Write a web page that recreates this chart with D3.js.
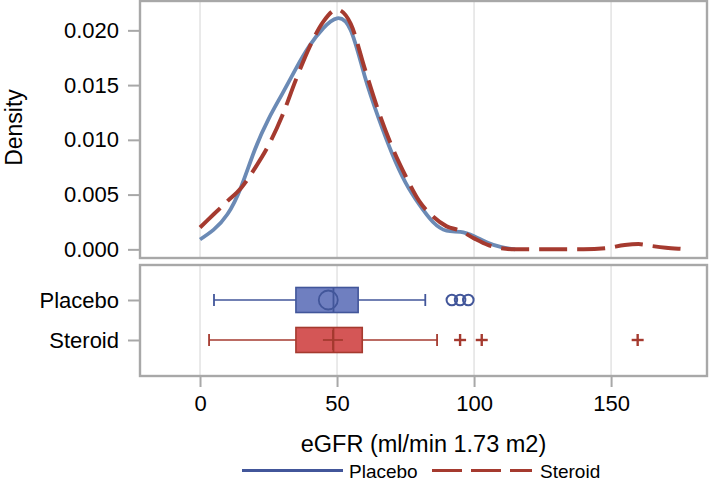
<!DOCTYPE html>
<html>
<head>
<meta charset="utf-8">
<script src="https://cdn.jsdelivr.net/npm/d3@7"></script>
<style>
html,body{margin:0;padding:0;background:#fff;}
svg{display:block;font-family:"Liberation Sans",Arial,sans-serif;}
</style>
</head>
<body>
<svg id="chart" width="709" height="480"></svg>
<script>
// ---------- data ----------
const densityX = [0,5,10,15,20,25,30,35,40,45,50,55,60,65,70,75,80,85,90,95,100,105,110,115];
const placeboDensity = [0.0009,0.0018,0.0032,0.0057,0.0091,0.0119,0.0142,0.0165,0.0186,0.0202,0.0211,0.0200,0.0159,0.0121,0.0088,0.0061,0.0041,0.0025,0.0017,0.0016,0.0012,0.0006,0.0002,0.0000];
const steroidX = [0,5,10,15,20,25,30,35,40,45,50,55,60,65,70,75,80,85,90,95,100,105,110,115,120,130,140,148,155,160,165,170,175,178];
const steroidDensity = [0.0020,0.0032,0.0044,0.0056,0.0074,0.0095,0.0122,0.0155,0.0185,0.0208,0.0219,0.0206,0.0166,0.0127,0.0094,0.0067,0.0044,0.0030,0.0021,0.0017,0.0010,0.0004,0.0001,0.0000,0.0000,0.0000,0.0000,0.0001,0.0004,0.00048,0.0003,0.00015,0.00005,0.0000];

const categories = ["Placebo","Steroid"];
const whiskerLow = [5.1, 3.3];
const q1 = [35.0, 35.0];
const median = [48.7, 48.7];
const q3 = [57.7, 59.2];
const whiskerHigh = [82.2, 86.5];
const means = [46.8, 48.5];
const outliers = [[91.9, 94.9, 97.9], [94.9, 102.8, 159.7]];

const xTicks = [0, 50, 100, 150];
const yTicks = [0.000, 0.005, 0.010, 0.015, 0.020];
const xTitle = "eGFR (ml/min 1.73 m2)";
const yTitle = "Density";
const legendLabels = ["Placebo", "Steroid"];

// ---------- layout ----------
const L = 140, R = 707;
const topY0 = 1, topY1 = 258;
const botY0 = 265, botY1 = 376;
const blueLine = "#6b8ab5", blueDark = "#42569a", blueFill = "#6f7fc0";
const redLine = "#a53a2f", redFill = "#d45656";
const frameCol = "#a8a8a8", gridCol = "#e3e3e3";

const svg = d3.select("#chart");
const x = d3.scaleLinear().domain([-21.9, 185]).range([L, R]);
const y = d3.scaleLinear().domain([-0.00079, 0.02268]).range([topY1, topY0]);
const yc = d3.scalePoint().domain(categories).range([300, 340]);

// gridlines
[[topY0, topY1], [botY0, botY1]].forEach(([a, b]) => {
  svg.append("g").selectAll("line").data(xTicks).join("line")
    .attr("x1", d => x(d)).attr("x2", d => x(d))
    .attr("y1", a).attr("y2", b)
    .attr("stroke", gridCol).attr("stroke-width", 1.5);
});

// density curves
const lineSmooth = d3.line().x(d => x(d[0])).y(d => y(d[1])).curve(d3.curveNatural);
const lineMono = d3.line().x(d => x(d[0])).y(d => y(d[1])).curve(d3.curveMonotoneX);
svg.append("path").datum(densityX.map((v, i) => [v, placeboDensity[i]]))
  .attr("d", lineSmooth).attr("fill", "none").attr("stroke", blueLine).attr("stroke-width", 3.8);
svg.append("path").datum(steroidX.map((v, i) => [v, steroidDensity[i]]))
  .attr("d", lineMono).attr("fill", "none").attr("stroke", redLine).attr("stroke-width", 4)
  .attr("stroke-dasharray", "28,10");

// box plots
const fills = [blueFill, redFill], strokes = [blueDark, redLine];
categories.forEach((c, i) => {
  const cy = yc(c), g = svg.append("g");
  const col = strokes[i];
  g.append("line").attr("x1", x(whiskerLow[i])).attr("x2", x(q1[i])).attr("y1", cy).attr("y2", cy)
    .attr("stroke", col).attr("stroke-width", 1.6);
  g.append("line").attr("x1", x(q3[i])).attr("x2", x(whiskerHigh[i])).attr("y1", cy).attr("y2", cy)
    .attr("stroke", col).attr("stroke-width", 1.6);
  [whiskerLow[i], whiskerHigh[i]].forEach(v => {
    g.append("line").attr("x1", x(v)).attr("x2", x(v)).attr("y1", cy - 6).attr("y2", cy + 6)
      .attr("stroke", col).attr("stroke-width", 1.8);
  });
  g.append("rect").attr("x", x(q1[i])).attr("y", cy - 12.5)
    .attr("width", x(q3[i]) - x(q1[i])).attr("height", 25)
    .attr("fill", fills[i]).attr("stroke", col).attr("stroke-width", 1.6);
  g.append("line").attr("x1", x(median[i])).attr("x2", x(median[i])).attr("y1", cy - 12.5).attr("y2", cy + 12.5)
    .attr("stroke", col).attr("stroke-width", 1.8);
  if (i === 0) {
    g.append("circle").attr("cx", x(means[i])).attr("cy", cy).attr("r", 9.5)
      .attr("fill", "none").attr("stroke", col).attr("stroke-width", 1.8);
  } else {
    g.append("line").attr("x1", x(means[i]) - 10).attr("x2", x(means[i]) + 10).attr("y1", cy).attr("y2", cy)
      .attr("stroke", col).attr("stroke-width", 1.8);
    g.append("line").attr("x1", x(means[i])).attr("x2", x(means[i])).attr("y1", cy - 10).attr("y2", cy + 10)
      .attr("stroke", col).attr("stroke-width", 1.8);
  }
  outliers[i].forEach(v => {
    if (i === 0) {
      g.append("circle").attr("cx", x(v)).attr("cy", cy).attr("r", 5.3)
        .attr("fill", "none").attr("stroke", col).attr("stroke-width", 2);
    } else {
      g.append("line").attr("x1", x(v) - 6).attr("x2", x(v) + 6).attr("y1", cy).attr("y2", cy)
        .attr("stroke", col).attr("stroke-width", 2.4);
      g.append("line").attr("x1", x(v)).attr("x2", x(v)).attr("y1", cy - 6).attr("y2", cy + 6)
        .attr("stroke", col).attr("stroke-width", 2.4);
    }
  });
});

// frames
svg.append("rect").attr("x", L).attr("y", topY0).attr("width", R - L).attr("height", topY1 - topY0)
  .attr("fill", "none").attr("stroke", frameCol).attr("stroke-width", 2.4);
svg.append("rect").attr("x", L).attr("y", botY0).attr("width", R - L).attr("height", botY1 - botY0)
  .attr("fill", "none").attr("stroke", frameCol).attr("stroke-width", 2.4);

// axes
const yAxis = svg.append("g").attr("transform", `translate(${L - 1},0)`)
  .call(d3.axisLeft(y).tickValues(yTicks).tickFormat(d3.format(".3f")).tickSize(11).tickPadding(9));
const cAxis = svg.append("g").attr("transform", `translate(${L - 1},0)`)
  .call(d3.axisLeft(yc).tickSize(11).tickPadding(9));
const xAxis = svg.append("g").attr("transform", `translate(0,${botY1 + 1})`)
  .call(d3.axisBottom(x).tickValues(xTicks).tickFormat(d3.format("d")).tickSize(10).tickPadding(8));
[yAxis, cAxis, xAxis].forEach(a => {
  a.select(".domain").remove();
  a.selectAll(".tick line").attr("stroke", frameCol).attr("stroke-width", 2);
  a.selectAll(".tick text").attr("fill", "#000").style("font-size", "22px")
    .style("font-family", "'Liberation Sans',Arial,sans-serif");
});
xAxis.selectAll(".tick text").attr("dy", "0.71em");

// titles
svg.append("text").attr("x", (L + R) / 2).attr("y", 452).attr("text-anchor", "middle")
  .style("font-size", "23.5px").attr("fill", "#000").text(xTitle);
svg.append("text").attr("transform", `translate(21.5,${(topY0 + topY1) / 2 - 2}) rotate(-90)`)
  .attr("text-anchor", "middle").style("font-size", "23px").attr("fill", "#000").text(yTitle);

// legend
const ly = 470.5;
svg.append("line").attr("x1", 242).attr("x2", 343).attr("y1", ly).attr("y2", ly)
  .attr("stroke", blueDark).attr("stroke-width", 3);
svg.append("text").attr("x", 349).attr("y", ly + 7).style("font-size", "19px").attr("fill", "#000").text(legendLabels[0]);
svg.append("line").attr("x1", 432).attr("x2", 532).attr("y1", ly).attr("y2", ly)
  .attr("stroke", redLine).attr("stroke-width", 3).attr("stroke-dasharray", "30,9");
svg.append("text").attr("x", 540).attr("y", ly + 7).style("font-size", "19px").attr("fill", "#000").text(legendLabels[1]);
</script>
</body>
</html>
